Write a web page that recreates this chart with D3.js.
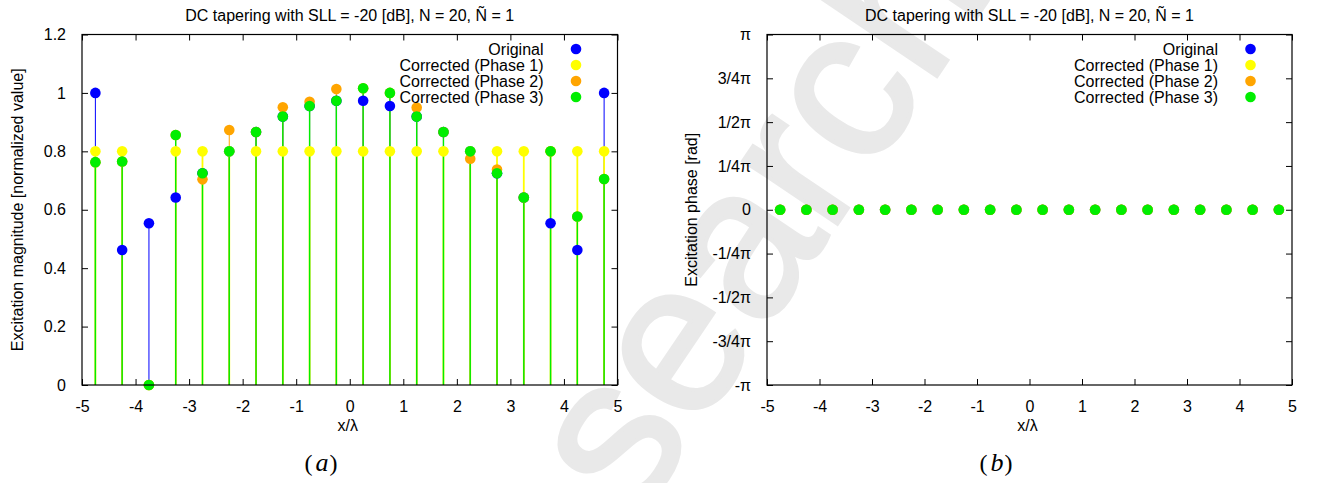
<!DOCTYPE html>
<html>
<head>
<meta charset="utf-8">
<script src="https://cdn.jsdelivr.net/npm/d3@7"></script>
<style>
  body { margin: 0; background: #fff; }
  svg text { font-family: "Liberation Sans", Arial, sans-serif; }
</style>
</head>
<body>
<svg id="chart" width="1322" height="483"></svg>
<script>
/*
  excitation magnitude / phase of the corrected DC tapering, drawn with d3
*/

// element positions x/lambda
var positions = [-4.75, -4.25, -3.75, -3.25, -2.75, -2.25, -1.75, -1.25, -0.75, -0.25,
                 0.25, 0.75, 1.25, 1.75, 2.25, 2.75, 3.25, 3.75, 4.25, 4.75];

// magnitudes (normalized)
var magOriginal = [1.0, 0.462, 0.554, 0.642, 0.725, 0.80, 0.866, 0.919, 0.955, 0.973,
                   0.973, 0.955, 0.919, 0.866, 0.80, 0.725, 0.642, 0.554, 0.462, 1.0];
var magPhase1 = [0.80, 0.80, 0, 0.80, 0.80, 0.80, 0.80, 0.80, 0.80, 0.80,
                 0.80, 0.80, 0.80, 0.80, 0.80, 0.80, 0.80, 0.80, 0.80, 0.80];
var magPhase2 = [0.763, 0.765, 0, 0.856, 0.704, 0.873, 0.866, 0.951, 0.970, 1.013,
                 1.016, 1.0, 0.950, 0.866, 0.775, 0.738, 0.642, 0.80, 0.577, 0.705];
var magPhase3 = [0.763, 0.765, 0, 0.856, 0.725, 0.80, 0.866, 0.919, 0.955, 0.973,
                 1.016, 1.0, 0.919, 0.866, 0.80, 0.725, 0.642, 0.80, 0.577, 0.705];

// phases (rad)
var phOriginal = [0, 0, 0, 0, 0, 0, 0, 0, 0, 0, 0, 0, 0, 0, 0, 0, 0, 0, 0, 0];
var phPhase1 = [0, 0, 0, 0, 0, 0, 0, 0, 0, 0, 0, 0, 0, 0, 0, 0, 0, 0, 0, 0];
var phPhase2 = [0, 0, 0, 0, 0, 0, 0, 0, 0, 0, 0, 0, 0, 0, 0, 0, 0, 0, 0, 0];
var phPhase3 = [0, 0, 0, 0, 0, 0, 0, 0, 0, 0, 0, 0, 0, 0, 0, 0, 0, 0, 0, 0];

var seriesNames = ["Original", "Corrected (Phase 1)", "Corrected (Phase 2)", "Corrected (Phase 3)"];
var seriesColors = ["#0000ff", "#ffff00", "#ffa500", "#00ee00"];
var stemWidths = [1, 1.8, 1, 1.4];

var xTicks = [-5, -4, -3, -2, -1, 0, 1, 2, 3, 4, 5];
var xTickLabels = ["-5", "-4", "-3", "-2", "-1", "0", "1", "2", "3", "4", "5"];
var magTicks = [0, 0.2, 0.4, 0.6, 0.8, 1, 1.2];
var magTickLabels = ["0", "0.2", "0.4", "0.6", "0.8", "1", "1.2"];
var phTicks = [-1, -0.75, -0.5, -0.25, 0, 0.25, 0.5, 0.75, 1];
var phTickLabels = ["-\u03c0", "-3/4\u03c0", "-1/2\u03c0", "-1/4\u03c0", "0", "1/4\u03c0", "1/2\u03c0", "3/4\u03c0", "\u03c0"];

var title = "DC tapering with SLL = -20 [dB], N = 20, \u00d1 = 1";

var svg = d3.select("#chart");

// watermark in the background
svg.append("text")
  .attr("transform", "translate(636,522) rotate(-56)")
  .style("font-size", "214px")
  .style("fill", "#e9e9e9")
  .style("stroke", "#e9e9e9")
  .style("stroke-width", 4)
  .text("search");

function drawPanel(opt) {
  var x = d3.scaleLinear().domain([-5, 5]).range([opt.left, opt.right]);
  var y = d3.scaleLinear().domain(opt.yDomain).range([opt.bottom, opt.top]);
  var g = svg.append("g");

  // stems, one series after the other
  if (opt.stems) {
    opt.series.forEach(function(vals, s) {
      g.selectAll(null).data(vals).enter().append("line")
        .attr("x1", function(d, i) { return x(positions[i]); })
        .attr("x2", function(d, i) { return x(positions[i]); })
        .attr("y1", y(0))
        .attr("y2", function(d) { return y(d); })
        .attr("stroke", seriesColors[s])
        .attr("stroke-width", stemWidths[s]);
    });
  }
  // points
  opt.series.forEach(function(vals, s) {
    g.selectAll(null).data(vals).enter().append("circle")
      .attr("cx", function(d, i) { return x(positions[i]); })
      .attr("cy", function(d) { return y(d); })
      .attr("r", 5.3)
      .attr("fill", seriesColors[s]);
  });

  // axes, ticks inside and mirrored
  var tl = -6;
  g.append("g").attr("transform", "translate(0," + opt.bottom + ")")
    .call(d3.axisBottom(x).tickValues(xTicks).tickSize(tl).tickPadding(16)
      .tickFormat(function(d, i) { return xTickLabels[i]; }));
  g.append("g").attr("transform", "translate(0," + opt.top + ")")
    .call(d3.axisTop(x).tickValues(xTicks).tickSize(tl).tickFormat(""));
  g.append("g").attr("transform", "translate(" + opt.left + ",0)")
    .call(d3.axisLeft(y).tickValues(opt.yTicks).tickSize(tl).tickPadding(16)
      .tickFormat(function(d, i) { return opt.yLabels[i]; }));
  g.append("g").attr("transform", "translate(" + opt.right + ",0)")
    .call(d3.axisRight(y).tickValues(opt.yTicks).tickSize(tl).tickFormat(""));
  g.selectAll(".domain").remove();
  g.selectAll(".tick line").attr("stroke", "#000");
  g.selectAll(".tick text").style("font-size", "16px").attr("fill", "#000")
    .style("font-family", "'Liberation Sans', Arial, sans-serif");

  // frame
  g.append("rect")
    .attr("x", opt.left).attr("y", opt.top)
    .attr("width", opt.right - opt.left).attr("height", opt.bottom - opt.top)
    .attr("fill", "none").attr("stroke", "#000").attr("stroke-width", 1.2);

  // legend
  var cx = (opt.left + opt.right) / 2;
  seriesNames.forEach(function(name, s) {
    var ly = opt.top + 14.5 + s * 16;
    g.append("text").attr("x", opt.right - 74).attr("y", ly).attr("dy", "0.35em")
      .attr("text-anchor", "end").style("font-size", "16px").text(name);
    g.append("circle").attr("cx", opt.right - 41.5).attr("cy", ly).attr("r", 5.3)
      .attr("fill", seriesColors[s]);
  });

  g.append("text").attr("x", cx).attr("y", 21).attr("text-anchor", "middle")
    .style("font-size", "16px").text(title);
  g.append("text").attr("x", cx - 2).attr("y", 431).attr("text-anchor", "middle")
    .style("font-size", "16px").text("x/\u03bb");
  g.append("text")
    .attr("transform", "translate(" + opt.yLabelX + "," + ((opt.top + opt.bottom) / 2) + ") rotate(-90)")
    .attr("dy", "0.35em").attr("text-anchor", "middle")
    .style("font-size", "16px").text(opt.yLabel);

  // sub caption (a)/(b)
  var cap = g.append("text").attr("x", opt.capX).attr("y", 471).attr("text-anchor", "middle")
    .style("font-family", "'Liberation Serif', 'DejaVu Serif', serif").style("font-size", "24px");
  cap.append("tspan").text("(");
  cap.append("tspan").style("font-style", "italic").attr("dx", 3).style("font-size", "26px").text(opt.cap);
  cap.append("tspan").attr("dx", 1).text(")");
}

drawPanel({
  left: 82, right: 617.5, top: 34.5, bottom: 385,
  yDomain: [0, 1.2], yTicks: magTicks, yLabels: magTickLabels,
  series: [magOriginal, magPhase1, magPhase2, magPhase3],
  stems: true,
  yLabel: "Excitation magnitude [normalized value]", yLabelX: 17.5,
  cap: "a", capX: 321
});

drawPanel({
  left: 767, right: 1292, top: 34.5, bottom: 385,
  yDomain: [-Math.PI, Math.PI], yTicks: phTicks.map(function(t) { return t * Math.PI; }),
  yLabels: phTickLabels,
  series: [phOriginal, phPhase1, phPhase2, phPhase3],
  stems: false,
  yLabel: "Excitation phase [rad]", yLabelX: 691.5,
  cap: "b", capX: 996
});
</script>
</body>
</html>
